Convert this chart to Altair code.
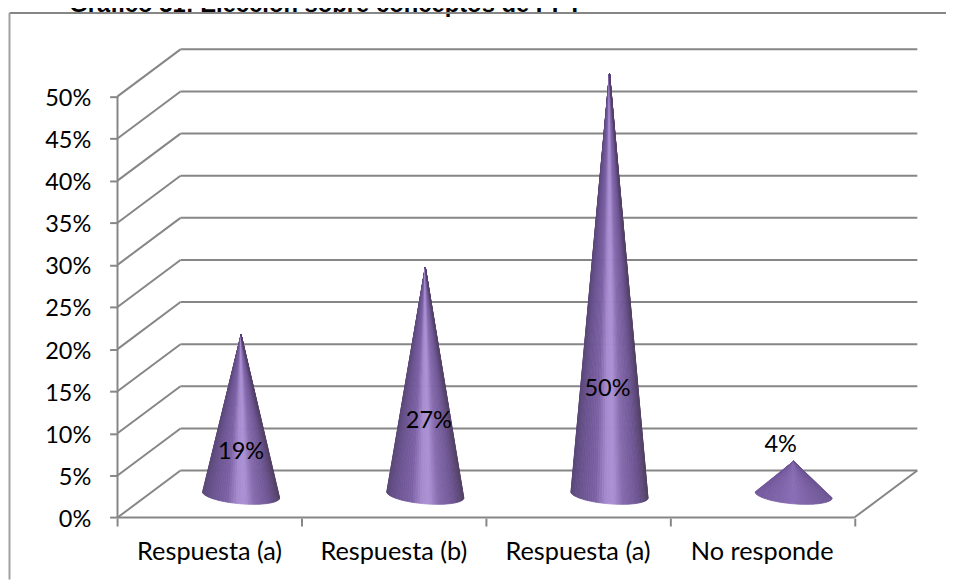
import math
import altair as alt
import pandas as pd

# ---- chart values ----
CATEGORIES = ["Respuesta (a)", "Respuesta (b)", "Respuesta (a)", "No responde"]
VALUES = [19, 27, 50, 4]
Y_TICKS = [0, 5, 10, 15, 20, 25, 30, 35, 40, 45, 50]
TITLE = "Gráfico 31: Elección sobre conceptos de PPT"

# ---- layout, in axis units ----
DEPTH_X = 0.342      # oblique depth of the 3D box
DEPTH_Y = 5.58
BASE_Y = 2.7         # height of the cone base centres on the floor
BASE_A = 0.209       # base half width
BASE_B = 1.07        # base half height
BASE_TILT = 0.36
LABEL_Y = [7.8, 11.4, 15.3, 8.6]
LABEL_X = [0.671, 1.69, 2.66, 3.6]
CAT_LABEL_Y = -4.1
X_DOMAIN = [-0.5945, 4.4978]
Y_DOMAIN = [-7.36, 60.2]
GREY = "#868686"
FONT = "Lato"

xs = alt.Scale(domain=X_DOMAIN, range=[0, 946], nice=False, zero=False)
ys = alt.Scale(domain=Y_DOMAIN, range=[574, 0], nice=False, zero=False)
AX_X = alt.Axis(values=[0, 1, 2, 3, 4], labels=False, offset=-62, title=None, orient="bottom",
                domain=False, grid=False, tickColor=GREY, tickWidth=2, tickSize=8)
AX_Y = alt.Axis(values=Y_TICKS, labelExpr="datum.value + '%'", offset=-110.5, title=None,
                domain=False, grid=False, tickColor=GREY, tickWidth=2, tickSize=8, labelPadding=19,
                labelOffset=2, labelFont=FONT, labelFontSize=23.7, labelColor="#000000")
X = lambda f="x": alt.X(f"{f}:Q", scale=xs, axis=AX_X)
Y = lambda f="y": alt.Y(f"{f}:Q", scale=ys, axis=AX_Y)

# ---- box lines ----
box = []
for v in Y_TICKS:
    box.append(dict(x=DEPTH_X, x2=4 + DEPTH_X, y=v + DEPTH_Y, y2=v + DEPTH_Y))
    box.append(dict(x=0, x2=DEPTH_X, y=v, y2=v + DEPTH_Y))
box.append(dict(x=4, x2=4 + DEPTH_X, y=0, y2=DEPTH_Y))
box.append(dict(x=0, x2=4, y=0, y2=0))
box.append(dict(x=0, x2=0, y=0, y2=50))
box_layer = alt.Chart(pd.DataFrame(box)).mark_rule(color=GREY, strokeWidth=2).encode(
    x=X(), x2="x2:Q", y=Y(), y2="y2:Q"
)

cat_df = pd.DataFrame({"x": [i + 0.5 for i in range(4)], "y": [CAT_LABEL_Y] * 4, "t": CATEGORIES})
cat_layer = alt.Chart(cat_df).mark_text(font=FONT, fontSize=25.5, color="#000000").encode(
    x=X(), y=Y(), text="t:N"
)

# ---- cones: fans of thin triangles, shaded around the surface ----
STOPS = [(-1.0, "#5a4878"), (-0.75, "#6a5390"), (-0.35, "#7d62a5"), (-0.08, "#a78dd0"),
         (0.12, "#ab92d4"), (0.35, "#876cae"), (0.75, "#6d5593"), (1.0, "#544268")]
FLAT = [(-1.0, "#71589b"), (0.0, "#8a6db5"), (1.0, "#6c5494")]


def shade(u, stops):
    for (a, ca), (b, cb) in zip(stops, stops[1:]):
        if a <= u <= b:
            t = (u - a) / (b - a)
            rgb = [round(int(ca[i:i + 2], 16) * (1 - t) + int(cb[i:i + 2], 16) * t) for i in (1, 3, 5)]
            return "#%02x%02x%02x" % tuple(rgb)
    return stops[-1][1]


def rim(cx, u):
    return cx + BASE_A * u, BASE_Y - BASE_TILT * u - BASE_B * math.sqrt(max(0, 1 - u * u))


rows = []
N = 48
for c, v in enumerate(VALUES):
    cx = c + 0.5 + DEPTH_X / 2
    apex = (cx, BASE_Y + v)
    stops = FLAT if v < 10 else STOPS
    for i in range(N):
        u1 = -math.cos(math.pi * i / N)
        u2 = -math.cos(math.pi * (i + 1) / N)
        a, b, d = sorted([apex, rim(cx, u1), rim(cx, u2)])
        t = (b[0] - a[0]) / (d[0] - a[0])
        ym = a[1] + (d[1] - a[1]) * t
        col = shade((u1 + u2) / 2, stops)
        w = f"{c}-{i}"
        rows.append(dict(w=w, x=a[0], ya=a[1], yb=a[1], c=col))
        rows.append(dict(w=w, x=b[0], ya=b[1], yb=ym, c=col))
        rows.append(dict(w=w, x=d[0], ya=d[1], yb=d[1], c=col))
cone_layer = alt.Chart(pd.DataFrame(rows)).mark_area(orient="vertical", strokeWidth=0.8).encode(
    x=X(),
    y=Y("ya"),
    y2="yb:Q",
    detail="w:N",
    fill=alt.Fill("c:N", scale=None),
    stroke=alt.Stroke("c:N", scale=None),
)

# ---- value labels ----
lab_df = pd.DataFrame({"x": LABEL_X, "y": LABEL_Y, "t": [f"{v}%" for v in VALUES]})
lab_layer = alt.Chart(lab_df).mark_text(font=FONT, fontSize=23.7, color="#000000").encode(
    x=X(), y=Y(), text="t:N"
)

# ---- frame and heading, whose upper part is cut off as in the reference ----
frame_top = alt.Chart(pd.DataFrame({"a": [0]})).mark_rule(color=GREY, strokeWidth=2).encode(
    x=alt.value(1.5), x2=alt.value(946), y=alt.value(2.6)
)
frame_left = alt.Chart(pd.DataFrame({"a": [0]})).mark_rule(color="#a0a0a0", strokeWidth=2).encode(
    x=alt.value(1.5), y=alt.value(2.6), y2=alt.value(574)
)
title_layer = alt.Chart(pd.DataFrame({"t": [TITLE]})).mark_text(
    font="Liberation Sans", fontSize=24, fontWeight="bold", align="right", baseline="alphabetic", color="#000000"
).encode(x=alt.value(579), y=alt.value(1.1), text="t:N")

chart = alt.layer(
    title_layer, frame_top, frame_left, box_layer, cat_layer, cone_layer, lab_layer
).properties(
    width=946, height=574, padding=0, autosize=alt.AutoSizeParams(type="none")
).configure_view(stroke=None)

chart.save("out.html", embed_options={"renderer": "svg", "actions": False})
